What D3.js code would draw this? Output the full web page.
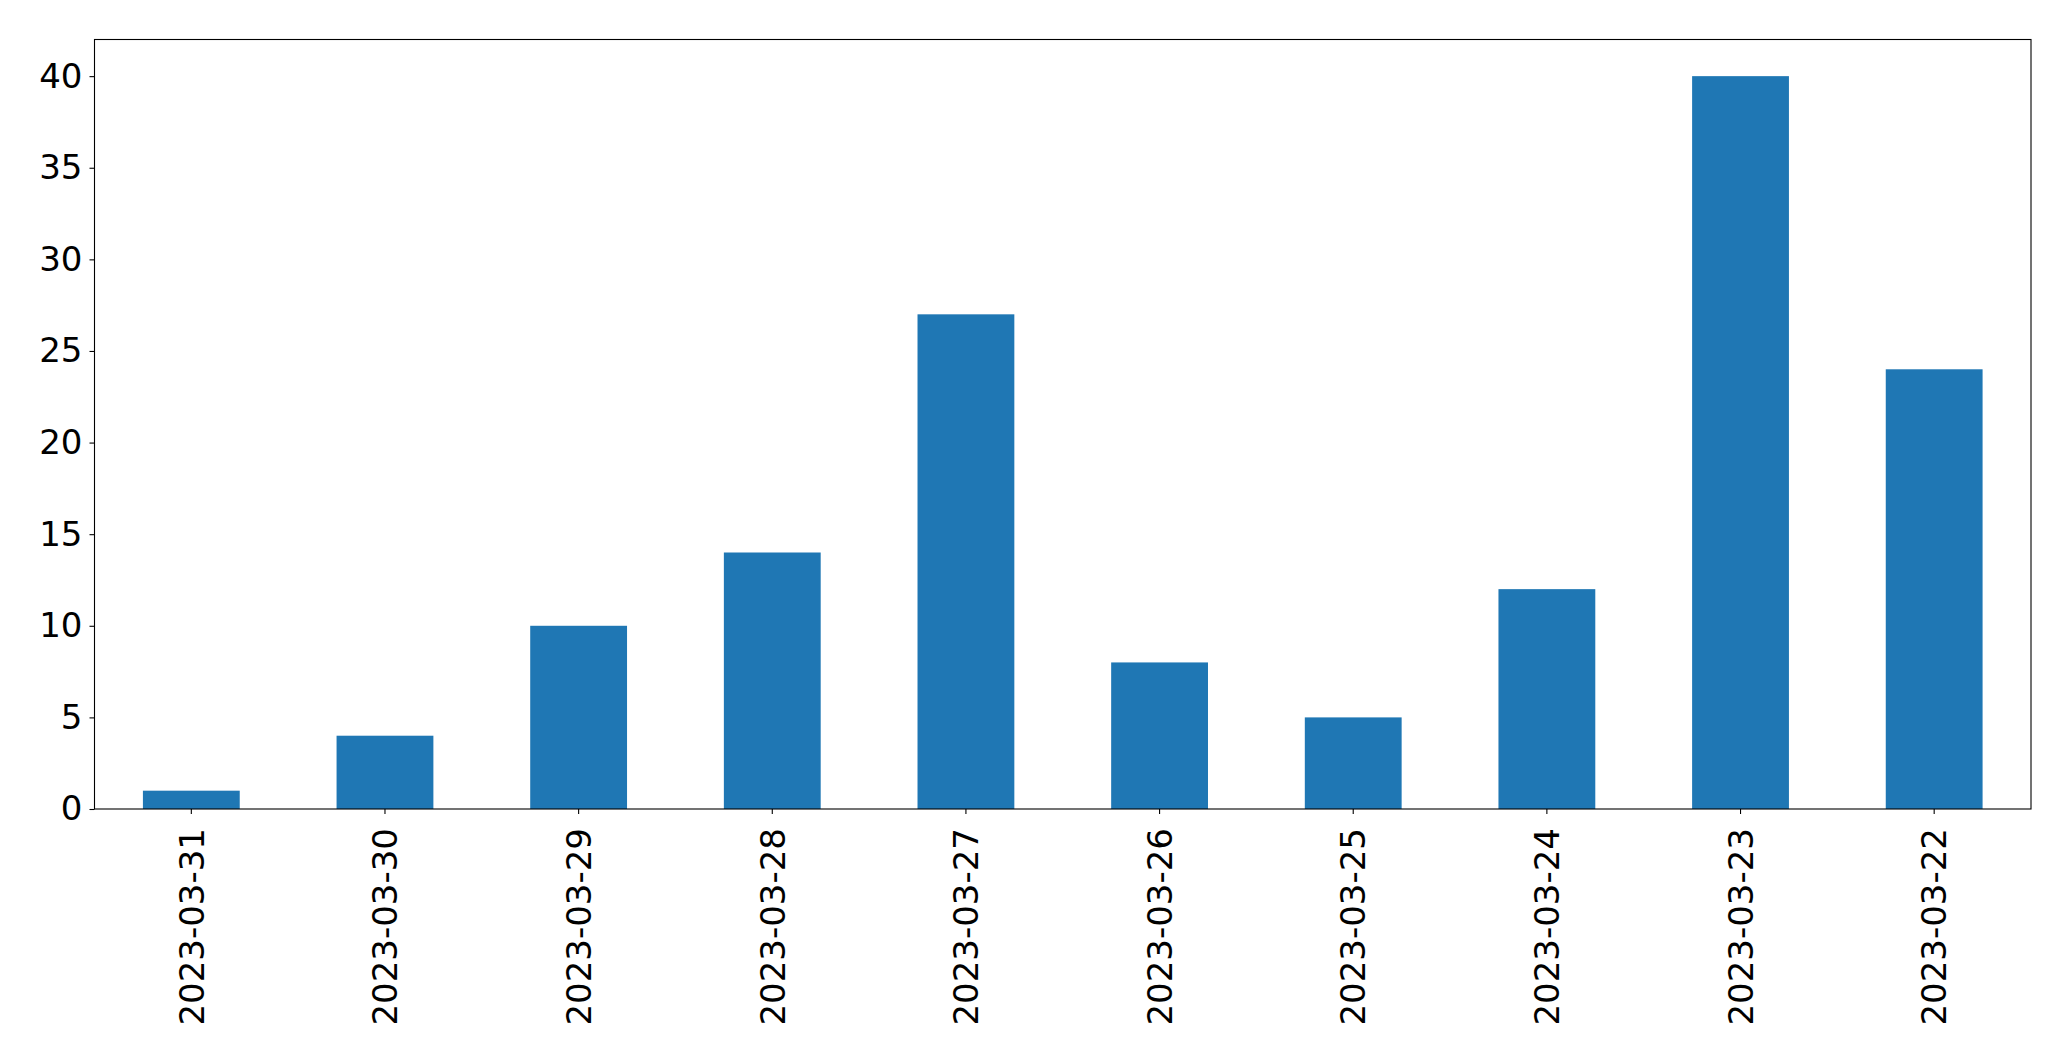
<!DOCTYPE html>
<html>
<head>
<meta charset="utf-8">
<script src="https://cdn.jsdelivr.net/npm/d3@7"></script>
<style>
  body { margin: 0; background: #fff; }
  svg text { font-family: "DejaVu Sans", sans-serif; }
</style>
</head>
<body>
<div id="chart"></div>
<script>
// data
var dates = ["2023-03-31", "2023-03-30", "2023-03-29", "2023-03-28", "2023-03-27",
             "2023-03-26", "2023-03-25", "2023-03-24", "2023-03-23", "2023-03-22"];
var counts = [1, 4, 10, 14, 27, 8, 5, 12, 40, 24];
var yTicks = [0, 5, 10, 15, 20, 25, 30, 35, 40];

var W = 2071, H = 1061;
var margin = { top: 39.5, right: 40, bottom: 252, left: 94.5 };
var width = W - margin.left - margin.right;
var height = H - margin.top - margin.bottom;
var fontSize = 34;

var svg = d3.select("#chart")
    .append("svg")
        .attr("width", W)
        .attr("height", H)
    .append("g")
        .attr("transform", "translate(" + margin.left + "," + margin.top + ")");

var xScale = d3.scaleBand()
    .domain(dates)
    .range([0, width])
    .paddingInner(0.5)
    .paddingOuter(0.25);

var yScale = d3.scaleLinear()
    .domain([0, 42])
    .range([height, 0]);

// bars
svg.selectAll("rect.bar")
    .data(counts)
    .enter()
    .append("rect")
        .attr("class", "bar")
        .attr("x", function (d, i) { return xScale(dates[i]); })
        .attr("width", xScale.bandwidth())
        .attr("y", function (d) { return yScale(d); })
        .attr("height", function (d) { return height - yScale(d); })
        .attr("fill", "#1f77b4");

// y axis
var yAxis = svg.append("g")
    .call(d3.axisLeft(yScale).tickValues(yTicks).tickSize(5).tickPadding(7));
yAxis.select(".domain").remove();
yAxis.selectAll("line").attr("stroke", "#000").attr("stroke-width", 1.1);
yAxis.selectAll("text")
    .attr("fill", "#000")
    .style("font-size", fontSize + "px")
    .style("font-family", "DejaVu Sans");

// x axis
var xAxis = svg.append("g")
    .attr("transform", "translate(0," + height + ")")
    .call(d3.axisBottom(xScale).tickSize(5).tickPadding(0));
xAxis.select(".domain").remove();
xAxis.selectAll("line").attr("stroke", "#000").attr("stroke-width", 1.1);
xAxis.selectAll("text")
    .attr("fill", "#000")
    .attr("y", 0)
    .attr("dy", "0.36em")
    .attr("transform", "translate(0,19) rotate(-90)")
    .style("text-anchor", "end")
    .style("font-size", fontSize + "px")
    .style("font-family", "DejaVu Sans");

// frame
svg.append("rect")
    .attr("x", 0)
    .attr("y", 0)
    .attr("width", width)
    .attr("height", height)
    .attr("fill", "none")
    .attr("stroke", "#000")
    .attr("stroke-width", 1.1);
</script>
</body>
</html>
